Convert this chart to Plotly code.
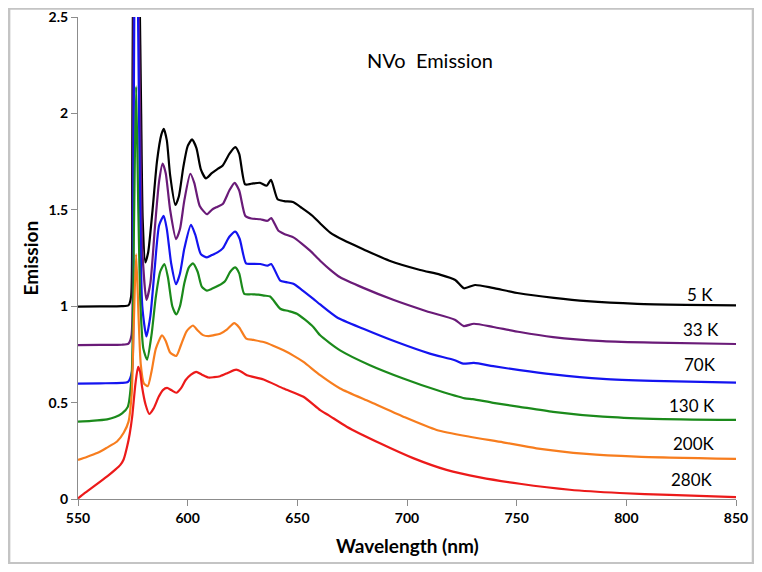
import plotly.graph_objects as go

# NVo emission spectra at six temperatures (each curve offset by 0.2)
wl_5k = [550, 560, 570, 573, 574.2, 574.7, 575.1, 576.5, 578, 578.8,
         579.5, 580.7, 582, 584, 586, 588, 589.1, 590.5, 592, 594.4,
         596, 598, 600, 602, 604, 606, 608.3, 611, 613.4, 616,
         619, 621.7, 623.5, 626.2, 629, 633, 636, 638, 641, 644,
         648, 652, 657, 660, 665, 671, 680, 692, 706, 715,
         722, 726, 731, 739, 751, 767, 782, 805, 827, 850]
em_5k = [0.998, 0.999, 1.0, 1.005, 1.05, 1.7, 2.7, 3.6, 2.7, 2.0,
         1.45, 1.227, 1.28, 1.5, 1.75, 1.89, 1.92, 1.86, 1.68, 1.525,
         1.57, 1.72, 1.83, 1.865, 1.82, 1.71, 1.663, 1.69, 1.71, 1.73,
         1.79, 1.825, 1.79, 1.632, 1.635, 1.64, 1.625, 1.655, 1.555, 1.545,
         1.54, 1.51, 1.468, 1.434, 1.382, 1.343, 1.296, 1.236, 1.188, 1.164,
         1.136, 1.093, 1.11, 1.095, 1.067, 1.043, 1.026, 1.012, 1.007, 1.004]

wl_33k = [550, 560, 570, 573, 574.4, 575, 575.4, 576.5, 577.6, 578.3,
          579.3, 581.2, 583, 585, 587, 588.6, 590, 592, 594.7, 596.5,
          598.5, 601.2, 603, 605.5, 608.8, 611, 613.4, 616, 619, 621.4,
          623.5, 626.3, 629, 633.1, 636.4, 638.1, 641.4, 644, 648.2, 652,
          655.8, 660.4, 664.9, 669.5, 680.1, 693.7, 708.9, 721.8, 725.9, 730.5,
          739.3, 751.4, 766.6, 789.3, 812.1, 850]
em_33k = [0.798, 0.799, 0.8, 0.806, 0.85, 1.5, 2.6, 3.3, 2.6, 2.0,
          1.3, 1.033, 1.12, 1.4, 1.65, 1.74, 1.69, 1.5, 1.348, 1.4,
          1.55, 1.687, 1.64, 1.52, 1.477, 1.5, 1.515, 1.53, 1.6, 1.64,
          1.6, 1.468, 1.455, 1.451, 1.443, 1.457, 1.391, 1.375, 1.357, 1.325,
          1.288, 1.236, 1.19, 1.15, 1.095, 1.033, 0.974, 0.93, 0.897, 0.909,
          0.892, 0.866, 0.84, 0.819, 0.811, 0.804]

wl_70k = [550, 560, 570, 572.8, 574.6, 575.2, 575.7, 576.5, 577.3, 578,
          579.3, 581.2, 583, 585, 587, 589.1, 590.5, 592.5, 594.7, 596.5,
          598.5, 601.5, 603.5, 606, 608.8, 611, 613.6, 616, 619, 621.7,
          623.7, 626.6, 629, 633.1, 636.4, 638.1, 642.2, 645, 648.2, 652,
          657.3, 660.4, 668, 680.1, 695.3, 710.4, 721.8, 725.6, 730.5, 739.3,
          751.4, 766.6, 789.3, 812.1, 850]
em_70k = [0.598, 0.6, 0.602, 0.608, 0.66, 1.4, 2.6, 3.0, 2.6, 1.8,
          1.0, 0.843, 0.95, 1.2, 1.42, 1.468, 1.4, 1.22, 1.114, 1.17,
          1.3, 1.422, 1.37, 1.27, 1.253, 1.265, 1.279, 1.3, 1.36, 1.387,
          1.35, 1.222, 1.22, 1.219, 1.21, 1.219, 1.133, 1.125, 1.116, 1.085,
          1.038, 1.009, 0.943, 0.883, 0.814, 0.754, 0.72, 0.702, 0.706, 0.689,
          0.668, 0.646, 0.623, 0.613, 0.604]

wl_130k = [550, 556, 563.3, 567, 570.1, 572.7, 574.5, 575.5, 576.5, 577.5,
           578.5, 579.8, 581.5, 583.5, 585.5, 587.5, 589.4, 591, 593, 594.8,
           596.5, 598.5, 600.5, 602.4, 604.5, 606.5, 608.8, 611, 614.1, 617,
           619.5, 621.7, 623.5, 625.8, 629, 632.3, 635, 637.6, 642.2, 646,
           649.8, 653.5, 657.3, 660.4, 669.5, 683.1, 698.3, 713.5, 726.4, 730,
           739.3, 751.4, 766.6, 789.3, 812.1, 850]
em_130k = [0.401, 0.405, 0.413, 0.425, 0.444, 0.478, 0.65, 1.4, 2.14, 1.5,
           1.0, 0.78, 0.723, 0.85, 1.05, 1.18, 1.219, 1.15, 1.0, 0.957,
           1.0, 1.12, 1.2, 1.222, 1.18, 1.1, 1.081, 1.09, 1.107, 1.13,
           1.18, 1.201, 1.17, 1.064, 1.062, 1.06, 1.055, 1.05, 0.987, 0.975,
           0.961, 0.93, 0.892, 0.849, 0.771, 0.694, 0.625, 0.565, 0.522, 0.518,
           0.499, 0.478, 0.452, 0.427, 0.416, 0.41]

wl_200k = [550, 554, 558.7, 563, 567.8, 570.9, 573, 574.5, 575.3, 576.5,
           577.6, 578.6, 580, 581.8, 583.5, 585.5, 588.3, 590, 592, 594.8,
           597, 599.5, 602.4, 604.5, 607, 609.5, 612, 614.8, 618, 621.2,
           623.5, 626.7, 630, 634.6, 639, 643.7, 648, 652.8, 660.4, 669.5,
           683.1, 698.3, 713.5, 728.6, 743.8, 759, 781.8, 804.5, 850]
em_200k = [0.203, 0.218, 0.238, 0.265, 0.298, 0.345, 0.4, 0.55, 0.85, 1.27,
           0.95, 0.7, 0.6, 0.585, 0.66, 0.78, 0.849, 0.82, 0.76, 0.742,
           0.8, 0.87, 0.9, 0.875, 0.85, 0.845, 0.85, 0.857, 0.88, 0.912,
           0.89, 0.832, 0.825, 0.814, 0.795, 0.771, 0.745, 0.711, 0.642, 0.573,
           0.504, 0.427, 0.358, 0.323, 0.294, 0.263, 0.234, 0.22, 0.208]

wl_280k = [550, 553, 557.2, 563.3, 567, 569.3, 570.8, 572.4, 573.6, 574.7,
           576.2, 577.4, 578.3, 579.2, 580.8, 582.5, 584.5, 586.8, 588.7, 590.6,
           592.5, 594.8, 597, 599, 601.5, 603.9, 606.5, 609.5, 612, 614.8,
           618.5, 622.1, 624.5, 627, 634.6, 643.7, 652.8, 660.4, 664.2, 672.5,
           687.7, 702.8, 718, 733.2, 751.4, 774.2, 796.9, 819.7, 850]
em_280k = [0.003, 0.03, 0.065, 0.117, 0.152, 0.177, 0.205, 0.272, 0.34, 0.427,
           0.599, 0.685, 0.66, 0.582, 0.49, 0.441, 0.47, 0.53, 0.565, 0.576,
           0.565, 0.551, 0.575, 0.616, 0.645, 0.659, 0.645, 0.63, 0.632, 0.637,
           0.655, 0.671, 0.66, 0.642, 0.62, 0.573, 0.53, 0.461, 0.435, 0.375,
           0.289, 0.212, 0.151, 0.112, 0.079, 0.048, 0.031, 0.021, 0.01]

labels = ['5 K', '33 K', '70K', '130 K', '200K', '280K']
label_x = [833.5, 834, 833.7, 830, 830.7, 830]
label_y = [1.06, 0.88, 0.699, 0.487, 0.289, 0.10]

series = [(wl_5k, em_5k, '#000000'),
          (wl_33k, em_33k, '#6a1b78'),
          (wl_70k, em_70k, '#1414f0'),
          (wl_130k, em_130k, '#1b8a1b'),
          (wl_200k, em_200k, '#f77d1e'),
          (wl_280k, em_280k, '#ec1a1a')]

font = 'Lato, Calibri, sans-serif'

fig = go.Figure()
for (wl, em, col), name in zip(series, labels):
    fig.add_trace(go.Scatter(x=wl, y=em, mode='lines', name=name,
                             line=dict(color=col, width=2.2, shape='spline', smoothing=0.6)))

for t, lx, ly in zip(labels, label_x, label_y):
    fig.add_annotation(x=lx, y=ly, text=t, showarrow=False, xanchor='center', yanchor='middle',
                       font=dict(family=font, size=17, color='black'))

fig.add_annotation(x=0.535, y=0.911, xref='paper', yref='paper', text='NVo  Emission',
                   xanchor='center', yanchor='middle', showarrow=False,
                   font=dict(family=font, size=20, color='black'))
fig.add_annotation(x=0.5, y=0, xref='paper', yref='paper', yshift=-46, text='Wavelength (nm)',
                   xanchor='center', yanchor='middle', showarrow=False,
                   font=dict(family=font, size=19, color='black', weight='bold'))
fig.add_annotation(x=0, y=0.5, xref='paper', yref='paper', xshift=-48.5, text='Emission',
                   xanchor='center', yanchor='middle', textangle=-90, showarrow=False,
                   font=dict(family=font, size=19, color='black', weight='bold'))

# grey frame around the whole chart
fig.add_shape(type='rect', xref='paper', yref='paper',
              x0=-0.1047, x1=1.0258, y0=-0.1331, y1=1.0176,
              line=dict(color='#c4c4c4', width=2.5))

fig.update_xaxes(range=[550, 850], tickvals=[550, 600, 650, 700, 750, 800, 850],
                 showgrid=False, zeroline=False, showline=True, linecolor='#8c8c8c', linewidth=1,
                 ticks='outside', ticklen=6, tickcolor='#8c8c8c', ticklabeloverflow='allow',
                 automargin=False,
                 tickfont=dict(family=font, size=14, color='black', weight='bold'))
fig.update_yaxes(range=[0, 2.5], tickvals=[0, 0.5, 1, 1.5, 2, 2.5],
                 ticktext=['0', '0.5', '1', '1.5', '2', '2.5'],
                 showgrid=False, zeroline=False, showline=True, linecolor='#8c8c8c', linewidth=1,
                 ticks='outside', ticklen=6, tickcolor='#8c8c8c', ticklabeloverflow='allow',
                 automargin=False,
                 tickfont=dict(family=font, size=14, color='black', weight='bold'))

fig.update_layout(width=746, height=556, showlegend=False,
                  margin=dict(l=69.5, r=17.5, t=9, b=64.7, autoexpand=False),
                  plot_bgcolor='white', paper_bgcolor='white')

fig.write_html('out.html')
